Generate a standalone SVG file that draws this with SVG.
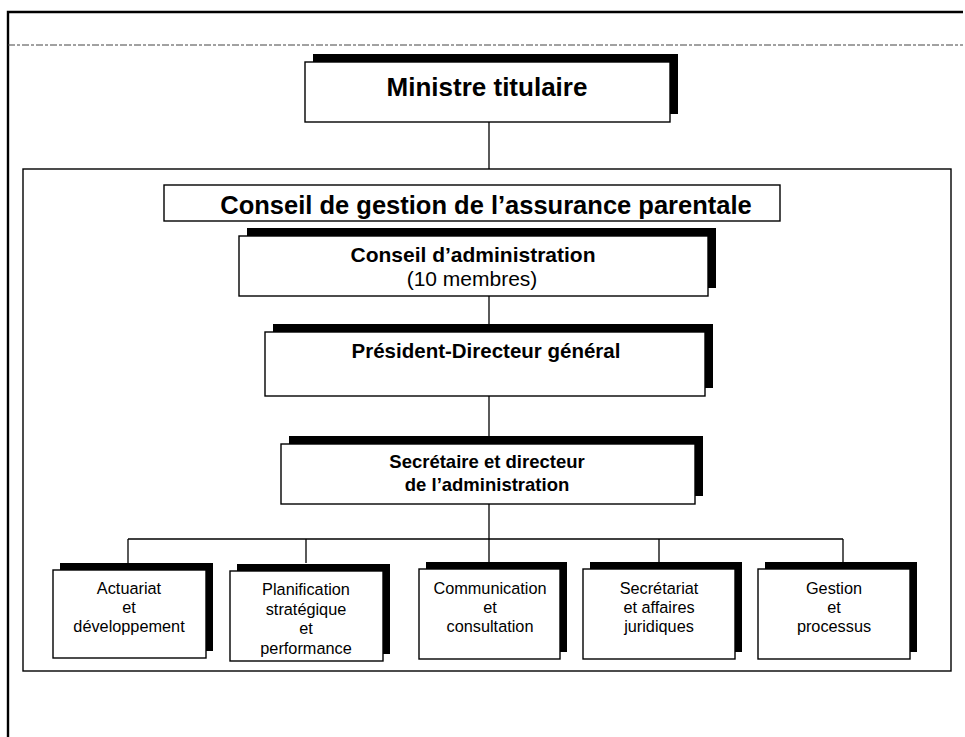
<svg xmlns="http://www.w3.org/2000/svg" width="965" height="737" viewBox="0 0 965 737">
<style>
  .box { fill: #fff; stroke: #000; stroke-width: 1.4; }
  .shadow { fill: #000; }
  .frame { fill: none; stroke: #000; stroke-width: 1.4; }
  .conn { fill: none; stroke: #000; stroke-width: 1.3; }
  text { font-family: "Liberation Sans", Arial, sans-serif; fill: #000; text-anchor: middle; }
  .b { font-weight: bold; }
  .small { font-size: 16.3px; }
</style>
<rect x="0" y="0" width="965" height="737" fill="#fff"/>
<!-- page border -->
<path d="M8,737 V12 H963" fill="none" stroke="#000" stroke-width="2.4"/>
<line x1="8" y1="45" x2="963" y2="45" stroke="#444" stroke-width="1" stroke-dasharray="7 2 3 2"/>
<!-- large frame -->
<rect class="frame" x="23" y="169" width="928" height="502"/>

<g id="connectors">
  <line class="conn" x1="489" y1="122" x2="489" y2="169"/>
  <line class="conn" x1="489" y1="296" x2="489" y2="332"/>
  <line class="conn" x1="489" y1="396" x2="489" y2="444"/>
  <line class="conn" x1="489" y1="504" x2="489" y2="569"/>
  <line class="conn" x1="128" y1="539" x2="843" y2="539"/>
  <line class="conn" x1="128" y1="539" x2="128" y2="563"/>
  <line class="conn" x1="306" y1="539" x2="306" y2="563"/>
  <line class="conn" x1="659" y1="539" x2="659" y2="562"/>
  <line class="conn" x1="843" y1="539" x2="843" y2="562"/>
</g>

<g id="ministre">
  <rect class="shadow" x="313" y="54" width="365" height="60"/>
  <rect class="box" x="305" y="62" width="365" height="60"/>
  <text class="b" x="487" y="96" font-size="26">Ministre titulaire</text>
</g>

<g id="conseil-gestion">
  <rect class="box" x="164" y="185" width="616" height="36"/>
  <text class="b" x="486" y="214" font-size="25.5">Conseil de gestion de l’assurance parentale</text>
</g>

<g id="conseil-admin">
  <rect class="shadow" x="247" y="228" width="469" height="60"/>
  <rect class="box" x="239" y="236" width="469" height="60"/>
  <text class="b" x="473" y="262" font-size="21">Conseil d’administration</text>
  <text x="472" y="286" font-size="21">(10 membres)</text>
</g>

<g id="president">
  <rect class="shadow" x="273" y="324" width="440" height="64"/>
  <rect class="box" x="265" y="332" width="440" height="64"/>
  <text class="b" x="486" y="358" font-size="20.5">Président-Directeur général</text>
</g>

<g id="secretaire">
  <rect class="shadow" x="289" y="436" width="414" height="60"/>
  <rect class="box" x="281" y="444" width="414" height="60"/>
  <text class="b" x="487" y="468" font-size="18.5">Secrétaire et directeur</text>
  <text class="b" x="487" y="491" font-size="18.5">de l’administration</text>
</g>

<g id="actuariat">
  <rect class="shadow" x="60" y="563" width="153" height="88"/>
  <rect class="box" x="53" y="570" width="153" height="88"/>
  <text class="small" x="129" y="594">Actuariat</text>
  <text class="small" x="129" y="613">et</text>
  <text class="small" x="129" y="632">développement</text>
</g>

<g id="planification">
  <rect class="shadow" x="237" y="564" width="153" height="90"/>
  <rect class="box" x="230" y="571" width="153" height="90"/>
  <text class="small" x="306" y="595">Planification</text>
  <text class="small" x="306" y="614.5">stratégique</text>
  <text class="small" x="306" y="634">et</text>
  <text class="small" x="306" y="653.5">performance</text>
</g>

<g id="communication">
  <rect class="shadow" x="426" y="562" width="141" height="90"/>
  <rect class="box" x="419" y="569" width="141" height="90"/>
  <text class="small" x="490" y="594">Communication</text>
  <text class="small" x="490" y="613">et</text>
  <text class="small" x="490" y="632">consultation</text>
</g>

<g id="secretariat">
  <rect class="shadow" x="590" y="562" width="152" height="90"/>
  <rect class="box" x="583" y="569" width="152" height="90"/>
  <text class="small" x="659" y="594">Secrétariat</text>
  <text class="small" x="659" y="613">et affaires</text>
  <text class="small" x="659" y="632">juridiques</text>
</g>

<g id="gestion">
  <rect class="shadow" x="765" y="562" width="152" height="90"/>
  <rect class="box" x="758" y="569" width="152" height="90"/>
  <text class="small" x="834" y="594">Gestion</text>
  <text class="small" x="834" y="613">et</text>
  <text class="small" x="834" y="632">processus</text>
</g>
</svg>
